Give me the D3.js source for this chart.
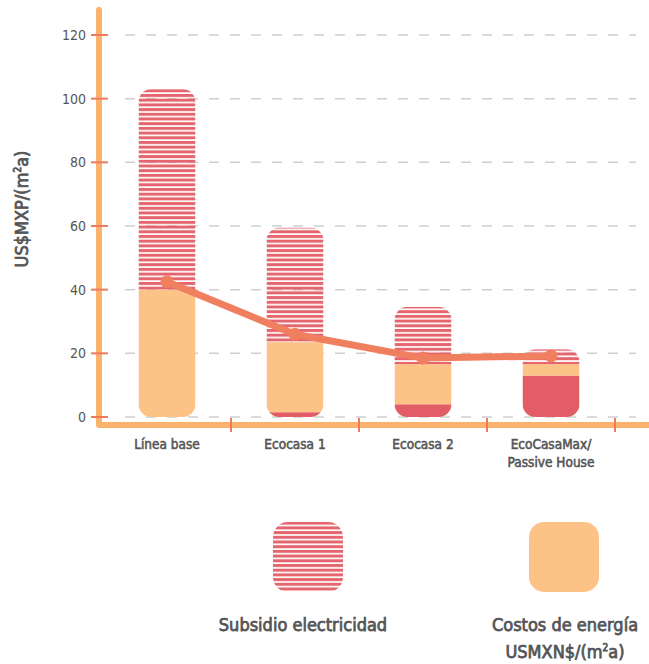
<!DOCTYPE html>
<html>
<head>
<meta charset="utf-8">
<script src="https://cdn.jsdelivr.net/npm/d3@7/dist/d3.min.js"></script>
<style>
  html, body { margin: 0; padding: 0; background: #fff; }
  svg { display: block; }
  text { font-family: "DejaVu Sans Condensed", "DejaVu Sans", sans-serif; font-stretch: condensed; fill: #555; }
  .med { stroke: #555; stroke-width: 0.55px; }
  .heavy { stroke: #555; stroke-width: 0.75px; }
</style>
</head>
<body>
<svg id="chart" width="649" height="664"></svg>
<script>
// Energy cost per housing standard, US$MXP/(m²a)
const categories = ["Línea base", "Ecocasa 1", "Ecocasa 2", "EcoCasaMax/\nPassive House"];
const baseRed   = [0, 1.5, 4, 13];          // solid red base segment
const costos    = [40, 22, 12.6, 3.6];      // Costos de energía
const subsidio  = [63, 36, 18, 4.7];        // Subsidio electricidad
const lineVals  = [42.5, 26, 18.5, 19.2];   // trend line
const yTicks    = [0, 20, 40, 60, 80, 100, 120];

const C = {
  axis: "#fbb26c",
  tick: "#f07a5c",
  grid: "#cfcfcf",
  orange: "#fdc286",
  red: "#e35d66",
  line: "#f07f5f"
};

const svg = d3.select("#chart");
const defs = svg.append("defs");

// horizontal stripe fill for the subsidy segments
const pat = defs.append("pattern")
  .attr("id", "stripes")
  .attr("patternUnits", "userSpaceOnUse")
  .attr("width", 10).attr("height", 4.7);
pat.append("rect").attr("x", 0).attr("y", 0).attr("width", 10).attr("height", 3)
  .attr("fill", C.red).attr("opacity", 0.95);

const y = d3.scaleLinear().domain([0, 120]).range([417, 35]);
const x = d3.scaleBand().domain(categories).range([103, 615]).paddingInner(0).paddingOuter(0);
const barW = 57;
const cx = d => x(d) + x.bandwidth() / 2;

// gridlines
svg.append("g").selectAll("line").data(yTicks).join("line")
  .attr("x1", 125).attr("x2", 636)
  .attr("y1", d => y(d)).attr("y2", d => y(d))
  .attr("stroke", C.grid).attr("stroke-width", 1.5)
  .attr("stroke-dasharray", "10,11");

// stacked rounded bars
const bars = svg.append("g");
categories.forEach((c, i) => {
  const total = baseRed[i] + costos[i] + subsidio[i];
  const id = "clip" + i;
  defs.append("clipPath").attr("id", id)
    .append("rect")
    .attr("x", cx(c) - barW / 2).attr("width", barW)
    .attr("y", y(total)).attr("height", y(0) - y(total))
    .attr("rx", 13).attr("ry", 13);
  const g = bars.append("g").attr("clip-path", `url(#${id})`);
  const segs = [
    { v0: 0, v1: baseRed[i], fill: C.red },
    { v0: baseRed[i], v1: baseRed[i] + costos[i], fill: C.orange },
    { v0: baseRed[i] + costos[i], v1: total, fill: "url(#stripes)" }
  ];
  g.selectAll("rect").data(segs).join("rect")
    .attr("x", cx(c) - barW / 2).attr("width", barW)
    .attr("y", d => y(d.v1)).attr("height", d => y(d.v0) - y(d.v1))
    .attr("fill", d => d.fill);
});

// trend line with markers
const lineGen = d3.line().x((d, i) => cx(categories[i])).y(d => y(d));
svg.append("path").datum(lineVals)
  .attr("d", lineGen)
  .attr("fill", "none").attr("stroke", C.line)
  .attr("stroke-width", 7).attr("stroke-linecap", "round").attr("stroke-linejoin", "round");
svg.append("g").selectAll("circle").data(lineVals).join("circle")
  .attr("cx", (d, i) => cx(categories[i])).attr("cy", d => y(d))
  .attr("r", 6.5).attr("fill", C.line);

// axes lines
svg.append("path")
  .attr("d", `M99,10 L99,${y(0) + 8} L649,${y(0) + 8}`)
  .attr("fill", "none").attr("stroke", C.axis).attr("stroke-width", 6)
  .attr("stroke-linecap", "round").attr("stroke-linejoin", "round");

// y ticks and labels
const yAxis = svg.append("g");
yAxis.selectAll("line").data(yTicks).join("line")
  .attr("x1", 91).attr("x2", 108)
  .attr("y1", d => y(d)).attr("y2", d => y(d))
  .attr("stroke", C.tick).attr("stroke-width", 2);
yAxis.selectAll("text").data(yTicks).join("text")
  .attr("x", 86).attr("y", d => y(d) + 5)
  .attr("text-anchor", "end")
  .attr("font-size", 14)
  .text(d => d);

// x ticks at band boundaries
const bounds = categories.map(c => x(c) + x.bandwidth());
svg.append("g").selectAll("line").data(bounds).join("line")
  .attr("x1", d => d).attr("x2", d => d)
  .attr("y1", y(0) + 1).attr("y2", y(0) + 15)
  .attr("stroke", C.tick).attr("stroke-width", 2);

// x labels
const xl = svg.append("g").selectAll("text").data(categories).join("text")
  .attr("class", "med")
  .attr("x", d => cx(d)).attr("y", 449)
  .attr("text-anchor", "middle")
  .attr("font-size", 13.5);
xl.each(function(d) {
  const t = d3.select(this);
  d.split("\n").forEach((ln, k) => {
    t.append("tspan").attr("x", cx(d)).attr("dy", k ? 18 : 0).text(ln);
  });
});

// y axis title
const yt = svg.append("text")
  .attr("class", "heavy")
  .attr("transform", "translate(28,209) rotate(-90)")
  .attr("text-anchor", "middle")
  .attr("font-size", 18);
yt.append("tspan").text("US$MXP/(m");
yt.append("tspan").attr("font-size", 10).attr("dy", -7).text("2");
yt.append("tspan").attr("dy", 7).text("a)");

// legend
const legend = [
  { x: 308, tx: 303, fill: "url(#stripes)", lines: [["Subsidio electricidad"]] },
  { x: 564, tx: 565, fill: C.orange, lines: [["Costos de energía"], ["USMXN$/(m", "2", "a)"]] }
];
legend.forEach(l => {
  svg.append("rect")
    .attr("x", l.x - 35).attr("y", 522).attr("width", 70).attr("height", 70)
    .attr("rx", 15).attr("fill", l.fill);
  l.lines.forEach((parts, k) => {
    const t = svg.append("text")
      .attr("class", "heavy")
      .attr("x", l.tx).attr("y", 631 + k * 27)
      .attr("text-anchor", "middle")
      .attr("font-size", 18);
    if (parts.length === 1) t.text(parts[0]);
    else {
      t.append("tspan").text(parts[0]);
      t.append("tspan").attr("font-size", 10).attr("dy", -7).text(parts[1]);
      t.append("tspan").attr("dy", 7).text(parts[2]);
    }
  });
});
</script>
</body>
</html>
